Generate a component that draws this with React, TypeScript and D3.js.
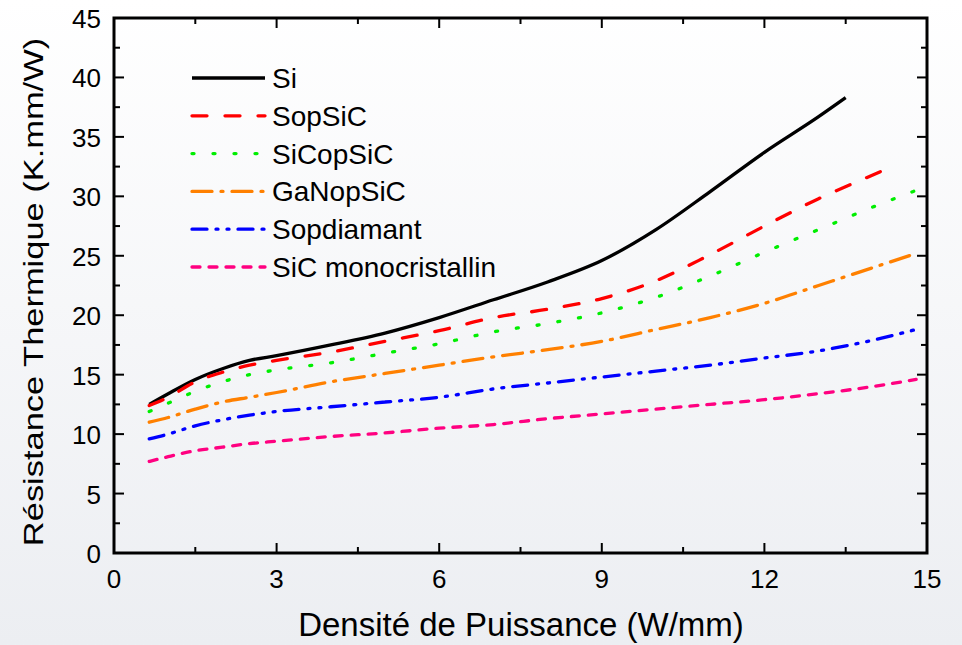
import React from 'react';
import * as d3 from 'd3';

// power density (W/mm) for each series
const xSi = [0.65, 1, 1.5, 2, 2.5, 3, 4, 5, 6, 7, 8, 9, 10, 11, 12, 13, 13.5];
const ySi = [12.5, 13.4, 14.6, 15.5, 16.2, 16.6, 17.5, 18.5, 19.8, 21.3, 22.8, 24.6, 27.2, 30.4, 33.7, 36.7, 38.3];

const xSop = [0.65, 1, 1.5, 2, 2.5, 3, 4, 5, 6, 7, 8, 9, 10, 11, 12, 13, 14, 14.35];
const ySop = [12.4, 13.1, 14.4, 15.2, 15.8, 16.2, 16.9, 17.8, 18.7, 19.8, 20.5, 21.4, 22.9, 25.1, 27.5, 29.8, 31.8, 32.5];

const xEnd = [0.65, 1, 1.5, 2, 2.5, 3, 4, 5, 6, 7, 8, 9, 10, 11, 12, 13, 14, 14.8];
const ySiCop = [11.9, 12.6, 13.6, 14.4, 15.0, 15.4, 16.0, 16.8, 17.6, 18.6, 19.3, 20.2, 21.5, 23.3, 25.3, 27.2, 29.1, 30.5];
const yGaN = [11.0, 11.4, 12.1, 12.7, 13.1, 13.5, 14.4, 15.1, 15.8, 16.5, 17.1, 17.8, 18.8, 19.8, 21.0, 22.5, 24.0, 25.2];
const yDiam = [9.6, 10.0, 10.7, 11.2, 11.6, 11.9, 12.3, 12.7, 13.1, 13.8, 14.3, 14.8, 15.3, 15.8, 16.4, 17.0, 17.9, 18.8];
const yMono = [7.7, 8.1, 8.6, 8.9, 9.2, 9.4, 9.8, 10.1, 10.5, 10.8, 11.3, 11.7, 12.1, 12.5, 12.9, 13.4, 14.0, 14.6];

const names = ['Si', 'SopSiC', 'SiCopSiC', 'GaNopSiC', 'Sopdiamant', 'SiC monocristallin'];
const colors = ['#000000', '#ff0000', '#00ee00', '#ff8000', '#0000ff', '#ff0080'];
const dashes = ['none', '15,18', '2,19', '20,9,2,9', '15,9,2,9,2,9', '8,9'];

const xTicks = [0, 3, 6, 9, 12, 15];
const yTicks = [0, 5, 10, 15, 20, 25, 30, 35, 40, 45];

const W = 962;
const H = 645;
const left = 114;
const right = 927;
const top = 18;
const bottom = 553;

export default function App() {
  const x = d3.scaleLinear().domain([0, 15]).range([left, right]);
  const y = d3.scaleLinear().domain([0, 45]).range([bottom, top]);

  const series = [
    [xSi, ySi],
    [xSop, ySop],
    [xEnd, ySiCop],
    [xEnd, yGaN],
    [xEnd, yDiam],
    [xEnd, yMono],
  ];

  const line = d3
    .line<[number, number]>()
    .x((d) => x(d[0]))
    .y((d) => y(d[1]))
    .curve(d3.curveMonotoneX);

  const xMinor = d3.range(1.5, 15, 3);
  const yMinor = d3.range(2.5, 45, 5);
  const font = 'Liberation Sans, Arial, sans-serif';

  return (
    <svg width={W} height={H} style={{ position: 'absolute', left: 0, top: 0 }}>
      <defs>
        <linearGradient id="bg" x1="0" y1="0" x2="0" y2="1">
          <stop offset="0" stopColor="#ffffff" />
          <stop offset="1" stopColor="#eceef2" />
        </linearGradient>
      </defs>
      <rect width={W} height={H} fill="url(#bg)" />

      {series.map(([xs, ys], i) => (
        <path
          key={names[i]}
          d={line(xs.map((v, j) => [v, ys[j]] as [number, number])) || ''}
          fill="none"
          stroke={colors[i]}
          strokeWidth={3.3}
          strokeDasharray={dashes[i]}
          strokeLinecap={i === 0 ? 'butt' : 'round'}
        />
      ))}

      {/* frame */}
      <rect x={left} y={top} width={right - left} height={bottom - top} fill="none" stroke="#000" strokeWidth={3} />

      {/* ticks, inward on all sides */}
      <g stroke="#000" strokeWidth={2}>
        {xTicks.map((t) => (
          <g key={'xt' + t}>
            <line x1={x(t)} x2={x(t)} y1={bottom} y2={bottom - 10} />
            <line x1={x(t)} x2={x(t)} y1={top} y2={top + 10} />
          </g>
        ))}
        {xMinor.map((t) => (
          <g key={'xm' + t}>
            <line x1={x(t)} x2={x(t)} y1={bottom} y2={bottom - 6} />
            <line x1={x(t)} x2={x(t)} y1={top} y2={top + 6} />
          </g>
        ))}
        {yTicks.map((t) => (
          <g key={'yt' + t}>
            <line x1={left} x2={left + 10} y1={y(t)} y2={y(t)} />
            <line x1={right} x2={right - 10} y1={y(t)} y2={y(t)} />
          </g>
        ))}
        {yMinor.map((t) => (
          <g key={'ym' + t}>
            <line x1={left} x2={left + 6} y1={y(t)} y2={y(t)} />
            <line x1={right} x2={right - 6} y1={y(t)} y2={y(t)} />
          </g>
        ))}
      </g>

      <g fontFamily={font} fontSize={26} fill="#000">
        {xTicks.map((t) => (
          <text key={'xl' + t} x={x(t)} y={588} textAnchor="middle">
            {t}
          </text>
        ))}
        {yTicks.map((t) => (
          <text key={'yl' + t} x={left - 13} y={y(t) + 10} textAnchor="end">
            {t}
          </text>
        ))}
      </g>

      <text x={521} y={636} textAnchor="middle" fontFamily={font} fontSize={33}>
        Densité de Puissance (W/mm)
      </text>
      <text
        transform={`translate(43,292) rotate(-90) scale(1.23,1)`}
        textAnchor="middle"
        fontFamily={font}
        fontSize={28}
      >
        Résistance Thermique (K.mm/W)
      </text>

      {/* legend */}
      <g fontFamily={font} fontSize={28}>
        {names.map((n, i) => {
          const ly = 78 + i * 37.8;
          return (
            <g key={'lg' + n}>
              <line
                x1={192}
                x2={265}
                y1={ly}
                y2={ly}
                stroke={colors[i]}
                strokeWidth={3.3}
                strokeDasharray={dashes[i]}
                strokeLinecap={i === 0 ? 'butt' : 'round'}
              />
              <text x={272} y={ly + 10}>
                {n}
              </text>
            </g>
          );
        })}
      </g>
    </svg>
  );
}
